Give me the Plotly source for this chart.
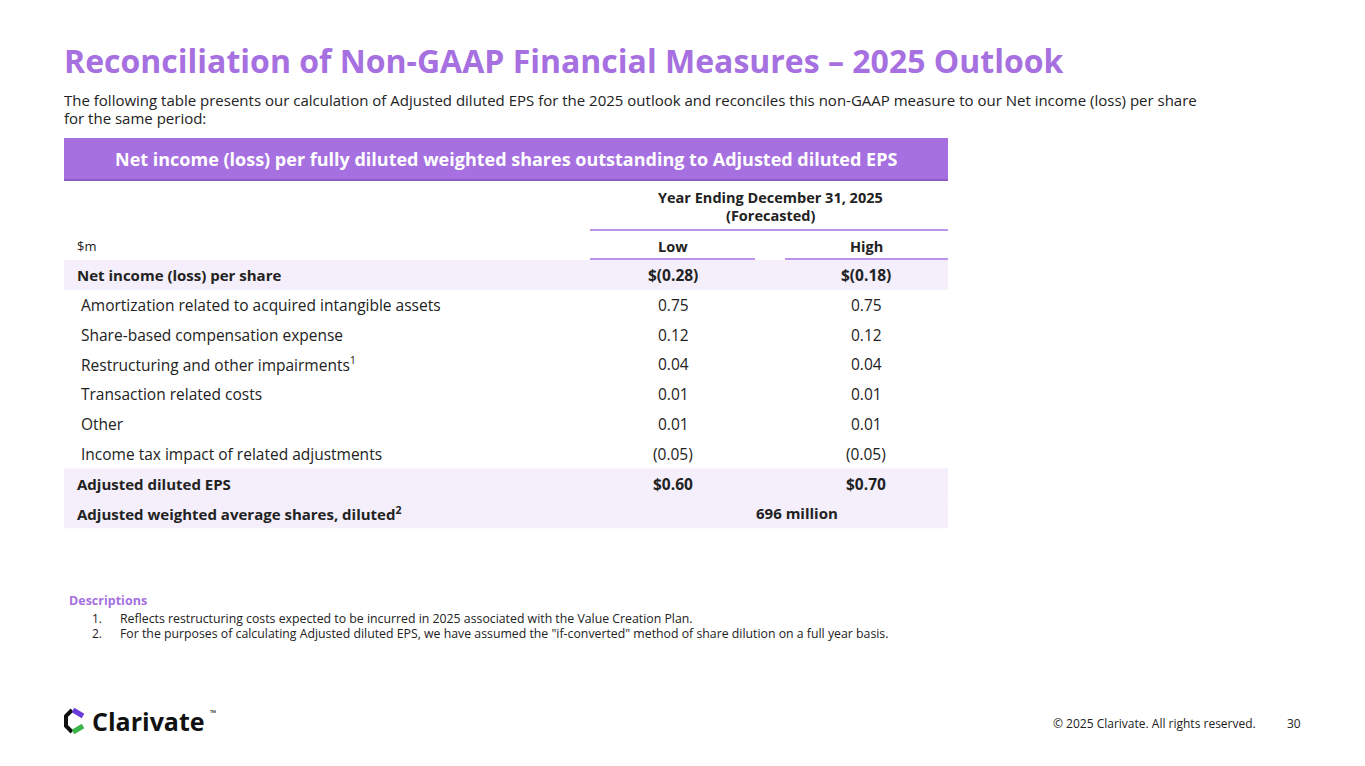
import plotly.graph_objects as go

# table data
row_labels = ["Net income (loss) per share",
              "Amortization related to acquired intangible assets",
              "Share-based compensation expense",
              "Restructuring and other impairments<sup>1</sup>",
              "Transaction related costs",
              "Other",
              "Income tax impact of related adjustments",
              "Adjusted diluted EPS"]
low_values = ["$(0.28)", "0.75", "0.12", "0.04", "0.01", "0.01", "(0.05)", "$0.60"]
high_values = ["$(0.18)", "0.75", "0.12", "0.04", "0.01", "0.01", "(0.05)", "$0.70"]
bold_rows = [True, False, False, False, False, False, False, True]
shares_label = "Adjusted weighted average shares, diluted<sup>2</sup>"
shares_value = "696 million"
notes = ["Reflects restructuring costs expected to be incurred in 2025 associated with the Value Creation Plan.",
         "For the purposes of calculating Adjusted diluted EPS, we have assumed the \"if-converted\" method of share dilution on a full year basis."]

PURPLE = "#A670E0"
BAND = "#F4EFFB"
DARK = "#222222"
FONT = "Open Sans"

fig = go.Figure()
shapes = []
ann = []

def txt(x, y, s, size=15, color=DARK, bold=False, anchor="left"):
    if bold:
        s = "<b>" + s + "</b>"
    ann.append(dict(x=x, y=y, text=s, showarrow=False, xanchor=anchor, yanchor="middle",
                    font=dict(family=FONT, size=size, color=color)))

txt(62, 60, "Reconciliation of Non-GAAP Financial Measures – 2025 Outlook", 32, PURPLE, True)
txt(62, 100, "The following table presents our calculation of Adjusted diluted EPS for the 2025 outlook and reconciles this non-GAAP measure to our Net income (loss) per share", 15)
txt(62, 118, "for the same period:", 15)

shapes.append(dict(type="rect", x0=64, x1=948, y0=138, y1=180, fillcolor=PURPLE, line_width=0, layer="below"))
shapes.append(dict(type="line", x0=64, x1=948, y0=180, y1=180, line=dict(color="#8E5BC8", width=2)))
txt(506, 159, "Net income (loss) per fully diluted weighted shares outstanding to Adjusted diluted EPS", 18, "white", True, "center")

txt(770, 197, "Year Ending December 31, 2025", 14.5, DARK, True, "center")
txt(770, 215, "(Forecasted)", 14.5, DARK, True, "center")
shapes.append(dict(type="line", x0=590, x1=948, y0=230, y1=230, line=dict(color=PURPLE, width=1.5)))
txt(75, 246, "$m", 13)
txt(673, 246, "Low", 14.5, DARK, True, "center")
txt(866, 246, "High", 14.5, DARK, True, "center")

row_h = 29.8
y0 = 260
for i, (lab, lo, hi, b) in enumerate(zip(row_labels, low_values, high_values, bold_rows)):
    top = y0 + i * row_h
    yc = top + row_h / 2
    if b:
        shapes.append(dict(type="rect", x0=64, x1=948, y0=top, y1=top + row_h, fillcolor=BAND, line_width=0, layer="below"))
    txt(75 if b else 79, yc, lab, 15 if b else 15.5, DARK, b)
    txt(673, yc, lo, 15.5, DARK, b, "center")
    txt(866, yc, hi, 15.5, DARK, b, "center")

top = y0 + len(row_labels) * row_h
shapes.append(dict(type="rect", x0=64, x1=948, y0=top, y1=top + row_h, fillcolor=BAND, line_width=0, layer="below"))
txt(75, top + row_h / 2, shares_label, 15, DARK, True)
txt(797, top + row_h / 2, shares_value, 15, DARK, True, "center")

shapes.append(dict(type="line", x0=590, x1=755, y0=259, y1=259, line=dict(color=PURPLE, width=1.5)))
shapes.append(dict(type="line", x0=785, x1=948, y0=259, y1=259, line=dict(color=PURPLE, width=1.5)))

txt(67, 600, "Descriptions", 12.5, PURPLE, True)
for i, n in enumerate(notes):
    txt(90, 618 + i * 15, f"{i + 1}.", 12)
    txt(118, 618 + i * 15, n, 12.3)

# logo
shapes.append(dict(type="path", path="M 72 710 L 66 716 L 66 726 L 72 732", line=dict(color="#111111", width=4)))
shapes.append(dict(type="path", path="M 73 710 L 83 716", line=dict(color="#6A3BD8", width=5)))
shapes.append(dict(type="path", path="M 73 732 L 83 726", line=dict(color="#3BB44A", width=5)))
txt(90, 721, "Clarivate", 25, "#111111", True)
txt(208, 712, "™", 8, "#111111", True)

txt(1258, 723, "© 2025 Clarivate. All rights reserved.", 12, DARK, False, "right")
txt(1303, 723, "30", 12, DARK, False, "right")

# the page body sits 8px in, so shift the axes to keep pixel positions
fig.update_layout(width=1365, height=766, margin=dict(l=0, r=0, t=0, b=0),
                  plot_bgcolor="white", paper_bgcolor="white",
                  xaxis=dict(range=[8, 1373], visible=False, fixedrange=True),
                  yaxis=dict(range=[774, 8], visible=False, fixedrange=True),
                  shapes=shapes, annotations=ann, showlegend=False)
fig.write_html("out.html")
